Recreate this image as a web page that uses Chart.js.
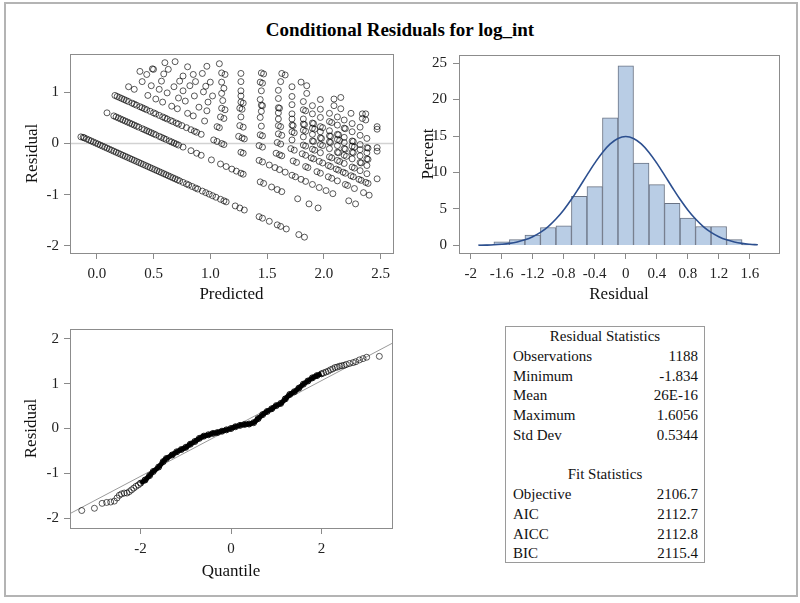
<!DOCTYPE html>
<html>
<head>
<meta charset="utf-8">
<script src="https://cdn.jsdelivr.net/npm/chart.js@4.4.1/dist/chart.umd.min.js"></script>
<style>
  body { margin: 0; background: #fff; width: 800px; height: 603px; position: relative; font-family: "Liberation Serif", "Times New Roman", serif; }
  #outer { position: absolute; left: 4px; top: 2px; width: 790px; height: 591px; border: 2px solid #b4b4b4; }
  h1 { position: absolute; left: 0; top: 19px; width: 800px; margin: 0; text-align: center; font-size: 19px; font-weight: bold; line-height: 22px; color: #000; }
  canvas { position: absolute; }
  #stats { position: absolute; left: 505px; top: 326px; width: 198px; height: 235px; border: 1px solid #9a9a9a; font-size: 15px; color: #111; }
  .row { height: 19.75px; line-height: 19.75px; display: flex; justify-content: space-between; padding: 0 6px 0 7px; }
  .head { height: 19.75px; line-height: 19.75px; text-align: center; }
</style>
</head>
<body>
<div id="outer"></div>
<h1>Conditional Residuals for log_int</h1>
<canvas id="scatter" width="400" height="270" style="left:0;top:40px"></canvas>
<canvas id="hist" width="400" height="270" style="left:400px;top:40px"></canvas>
<canvas id="qq" width="400" height="270" style="left:0;top:315px"></canvas>
<div id="stats"></div>

<script>
// residual vs predicted, one array per diagonal band
var band0 = [[-0.14,0.13],[-0.12,0.12],[-0.11,0.11],[-0.09,0.09],[-0.07,0.07],[-0.05,0.05],[-0.03,0.03],[-0.01,0.01],[0.01,-0.01],[0.03,-0.03],[0.05,-0.05],[0.07,-0.07],[0.09,-0.09],[0.11,-0.11],[0.13,-0.13],[0.15,-0.15],[0.17,-0.17],[0.19,-0.19],[0.21,-0.21],[0.23,-0.23],[0.25,-0.25],[0.27,-0.27],[0.29,-0.29],[0.31,-0.31],[0.33,-0.33],[0.35,-0.35],[0.37,-0.37],[0.39,-0.39],[0.41,-0.41],[0.43,-0.43],[0.45,-0.45],[0.47,-0.47],[0.49,-0.49],[0.51,-0.51],[0.53,-0.53],[0.55,-0.55],[0.57,-0.57],[0.59,-0.59],[0.61,-0.61],[0.63,-0.63],[0.65,-0.65],[0.67,-0.67],[0.69,-0.69],[0.71,-0.71],[0.73,-0.73],[0.76,-0.76],[0.79,-0.79],[0.81,-0.81],[0.84,-0.84],[0.87,-0.87],[0.89,-0.89],[0.93,-0.93],[0.96,-0.96],[0.99,-0.99],[1.02,-1.02],[1.05,-1.05],[1.09,-1.09],[1.12,-1.12],[1.14,-1.14],[1.22,-1.22],[1.26,-1.26],[1.30,-1.30],[1.43,-1.43],[1.46,-1.46],[1.52,-1.52],[1.59,-1.59],[1.62,-1.62],[1.67,-1.67],[1.78,-1.78],[1.83,-1.83]];
var band1 = [[0.09,0.60],[0.15,0.54],[0.17,0.52],[0.19,0.50],[0.21,0.48],[0.23,0.46],[0.25,0.44],[0.27,0.42],[0.29,0.40],[0.31,0.38],[0.33,0.36],[0.35,0.34],[0.37,0.32],[0.40,0.29],[0.42,0.27],[0.44,0.25],[0.46,0.23],[0.48,0.21],[0.50,0.19],[0.52,0.17],[0.55,0.14],[0.57,0.12],[0.59,0.10],[0.61,0.08],[0.64,0.05],[0.66,0.03],[0.68,0.01],[0.70,-0.01],[0.72,-0.03],[0.76,-0.07],[0.83,-0.14],[0.88,-0.19],[0.92,-0.23],[1.01,-0.32],[1.09,-0.40],[1.14,-0.45],[1.19,-0.50],[1.23,-0.54],[1.27,-0.58],[1.29,-0.60],[1.44,-0.75],[1.47,-0.78],[1.54,-0.85],[1.59,-0.90],[1.63,-0.94],[1.77,-1.08],[1.87,-1.18],[1.95,-1.26]];
var band2 = [[0.16,0.94],[0.18,0.92],[0.20,0.90],[0.22,0.88],[0.24,0.86],[0.26,0.84],[0.28,0.82],[0.31,0.79],[0.33,0.77],[0.35,0.75],[0.38,0.72],[0.40,0.70],[0.42,0.68],[0.44,0.66],[0.47,0.63],[0.50,0.60],[0.52,0.58],[0.55,0.55],[0.58,0.52],[0.60,0.50],[0.62,0.48],[0.65,0.45],[0.67,0.43],[0.70,0.40],[0.72,0.38],[0.75,0.35],[0.79,0.31],[0.83,0.27],[0.86,0.24],[0.88,0.22],[0.92,0.18],[1.03,0.07],[1.06,0.04],[1.10,0.00],[1.12,-0.02],[1.27,-0.17],[1.29,-0.19],[1.43,-0.33],[1.46,-0.36],[1.52,-0.42],[1.57,-0.47],[1.61,-0.51],[1.66,-0.56],[1.72,-0.62],[1.75,-0.65],[1.80,-0.70],[1.84,-0.74],[1.90,-0.80],[1.96,-0.86],[2.02,-0.92],[2.08,-0.98],[2.22,-1.12],[2.28,-1.18]];
var band3 = [[0.28,1.11],[0.33,1.06],[0.45,0.94],[0.52,0.87],[0.58,0.81],[0.66,0.73],[0.71,0.68],[0.80,0.59],[0.85,0.54],[0.95,0.44],[1.06,0.33],[1.08,0.31],[1.25,0.14],[1.28,0.11],[1.30,0.09],[1.43,-0.04],[1.46,-0.07],[1.58,-0.19],[1.61,-0.22],[1.63,-0.24],[1.73,-0.34],[1.76,-0.37],[1.84,-0.45],[1.86,-0.47],[1.94,-0.55],[1.97,-0.58],[2.04,-0.65],[2.07,-0.68],[2.12,-0.73],[2.19,-0.80],[2.21,-0.82],[2.27,-0.88],[2.35,-0.96],[2.40,-1.01]];
var band4 = [[0.40,1.21],[0.48,1.13],[0.55,1.06],[0.62,0.99],[0.72,0.89],[0.78,0.83],[0.90,0.71],[0.97,0.64],[1.09,0.52],[1.12,0.49],[1.26,0.35],[1.29,0.32],[1.44,0.17],[1.46,0.15],[1.59,0.02],[1.62,-0.01],[1.71,-0.10],[1.74,-0.13],[1.81,-0.20],[1.84,-0.23],[1.89,-0.28],[1.91,-0.30],[1.96,-0.35],[1.99,-0.38],[2.04,-0.43],[2.06,-0.45],[2.11,-0.50],[2.13,-0.52],[2.17,-0.56],[2.19,-0.58],[2.24,-0.63],[2.26,-0.65],[2.31,-0.70],[2.33,-0.72],[2.37,-0.76],[2.39,-0.78]];
var band5 = [[0.38,1.41],[0.44,1.35],[0.57,1.22],[0.68,1.11],[0.76,1.03],[0.86,0.93],[0.98,0.81],[1.10,0.69],[1.13,0.66],[1.27,0.52],[1.45,0.34],[1.60,0.19],[1.63,0.16],[1.72,0.07],[1.82,-0.03],[1.84,-0.05],[1.90,-0.11],[1.92,-0.13],[1.97,-0.18],[2.05,-0.26],[2.07,-0.28],[2.12,-0.33],[2.14,-0.35],[2.18,-0.39],[2.25,-0.46],[2.27,-0.48],[2.32,-0.53],[2.38,-0.59]];
var band6 = [[0.49,1.46],[0.50,1.45],[0.59,1.36],[0.73,1.22],[0.82,1.13],[0.94,1.01],[1.02,0.93],[1.11,0.84],[1.26,0.69],[1.28,0.67],[1.44,0.51],[1.60,0.35],[1.62,0.33],[1.72,0.23],[1.74,0.21],[1.82,0.13],[1.90,0.05],[1.91,0.04],[1.97,-0.02],[1.99,-0.04],[2.05,-0.10],[2.12,-0.17],[2.13,-0.18],[2.18,-0.23],[2.20,-0.25],[2.25,-0.30],[2.32,-0.37],[2.33,-0.38],[2.38,-0.43]];
var band7 = [[0.63,1.45],[0.76,1.32],[0.87,1.21],[0.96,1.12],[1.10,0.98],[1.27,0.81],[1.29,0.79],[1.45,0.63],[1.60,0.48],[1.72,0.36],[1.73,0.35],[1.82,0.26],[1.84,0.24],[1.90,0.18],[1.97,0.11],[1.98,0.10],[2.05,0.03],[2.06,0.02],[2.12,-0.04],[2.18,-0.10],[2.19,-0.11],[2.25,-0.17],[2.26,-0.18],[2.32,-0.24],[2.38,-0.30],[2.39,-0.31]];
var band8 = [[0.60,1.58],[0.85,1.35],[1.00,1.20],[1.12,1.08],[1.27,0.93],[1.45,0.75],[1.46,0.74],[1.60,0.60],[1.72,0.48],[1.82,0.38],[1.83,0.37],[1.90,0.30],[1.92,0.28],[1.97,0.23],[2.05,0.15],[2.06,0.14],[2.12,0.08],[2.14,0.06],[2.18,0.02],[2.25,-0.05],[2.27,-0.07],[2.32,-0.12],[2.38,-0.18]];
var band9 = [[0.69,1.60],[0.80,1.50],[0.93,1.37],[1.10,1.20],[1.27,1.03],[1.44,0.86],[1.60,0.70],[1.61,0.69],[1.72,0.58],[1.82,0.48],[1.90,0.40],[1.91,0.39],[1.97,0.33],[1.99,0.31],[2.05,0.25],[2.12,0.18],[2.13,0.17],[2.18,0.12],[2.25,0.05],[2.26,0.04],[2.32,-0.02],[2.38,-0.08],[2.39,-0.09]];
var band10 = [[0.97,1.51],[1.10,1.38],[1.13,1.35],[1.27,1.21],[1.45,1.03],[1.60,0.88],[1.72,0.76],[1.82,0.66],[1.84,0.64],[1.90,0.58],[1.97,0.51],[2.05,0.43],[2.07,0.41],[2.12,0.36],[2.18,0.30],[2.19,0.29],[2.25,0.23],[2.32,0.16],[2.38,0.10]];
var band11 = [[1.08,1.56],[1.27,1.37],[1.44,1.20],[1.46,1.18],[1.60,1.04],[1.72,0.92],[1.82,0.82],[1.90,0.74],[1.97,0.67],[2.05,0.59],[2.12,0.52],[2.18,0.46],[2.25,0.39],[2.32,0.32]];
var band12 = [[1.45,1.38],[1.47,1.36],[1.62,1.21],[1.72,1.11],[1.85,0.98],[1.97,0.86],[2.09,0.74],[2.15,0.68],[2.24,0.59],[2.34,0.49],[2.37,0.46]];
var band13 = [[1.63,1.37],[1.66,1.34],[1.80,1.20],[1.85,1.13],[2.09,0.87],[2.15,0.90],[2.34,0.58],[2.37,0.58]];
var edgeCol = [[2.47,0.33],[2.47,0.28],[2.47,-0.08],[2.47,-0.15],[2.47,-0.69]];

var scatterXTicks = [0, 0.5, 1, 1.5, 2, 2.5];
var scatterYTicks = [-2, -1, 0, 1];

// histogram: bin midpoints (width 0.2) and percent
var binMid = [-1.8, -1.6, -1.4, -1.2, -1.0, -0.8, -0.6, -0.4, -0.2, 0, 0.2, 0.4, 0.6, 0.8, 1.0, 1.2, 1.4, 1.6];
var binPct = [0.08, 0.5, 0.8, 1.43, 2.47, 2.69, 6.73, 8.07, 17.49, 24.6, 11.3, 8.34, 5.78, 3.77, 2.6, 2.6, 0.8, 0.17];
// normal density curve
var curveX = [-1.9, -1.8, -1.7, -1.6, -1.5, -1.4, -1.3, -1.2, -1.1, -1.0, -0.9, -0.8, -0.7, -0.6, -0.5, -0.4, -0.3, -0.2, -0.1, 0, 0.1, 0.2, 0.3, 0.4, 0.5, 0.6, 0.7, 0.8, 0.9, 1.0, 1.1, 1.2, 1.3, 1.4, 1.5, 1.6, 1.7];
var curveY = [0.03, 0.05, 0.09, 0.17, 0.29, 0.48, 0.77, 1.20, 1.79, 2.59, 3.62, 4.87, 6.33, 7.95, 9.64, 11.28, 12.75, 13.92, 14.67, 14.93, 14.67, 13.92, 12.75, 11.28, 9.64, 7.95, 6.33, 4.87, 3.62, 2.59, 1.79, 1.20, 0.77, 0.48, 0.29, 0.17, 0.09];
var histXTicks = [-2, -1.6, -1.2, -0.8, -0.4, 0, 0.4, 0.8, 1.2, 1.6];
var histYTicks = [0, 5, 10, 15, 20, 25];

// normal quantile plot
var qqTailLo = [[-3.30,-1.83],[-3.02,-1.78],[-2.85,-1.67],[-2.75,-1.65],[-2.66,-1.64],[-2.58,-1.62],[-2.52,-1.55],[-2.47,-1.49],[-2.42,-1.46],[-2.36,-1.44],[-2.30,-1.44],[-2.25,-1.41],[-2.20,-1.37],[-2.15,-1.33],[-2.10,-1.29],[-2.05,-1.26]];
var qqBody = [[-2.00,-1.22],[-1.90,-1.15],[-1.80,-1.05],[-1.72,-0.96],[-1.60,-0.86],[-1.50,-0.74],[-1.43,-0.67],[-1.30,-0.59],[-1.20,-0.52],[-1.10,-0.47],[-1.00,-0.42],[-0.90,-0.35],[-0.80,-0.29],[-0.70,-0.22],[-0.60,-0.17],[-0.50,-0.14],[-0.40,-0.11],[-0.30,-0.09],[-0.20,-0.06],[-0.10,-0.03],[0.00,0.00],[0.10,0.04],[0.20,0.07],[0.30,0.09],[0.40,0.10],[0.50,0.13],[0.60,0.22],[0.70,0.31],[0.80,0.38],[0.90,0.44],[1.00,0.51],[1.10,0.56],[1.20,0.66],[1.30,0.76],[1.40,0.82],[1.50,0.90],[1.60,0.99],[1.70,1.06],[1.80,1.13],[1.90,1.18],[2.00,1.22]];
var qqTailHi = [[2.05,1.24],[2.10,1.26],[2.15,1.28],[2.20,1.31],[2.25,1.33],[2.30,1.36],[2.35,1.37],[2.40,1.39],[2.45,1.40],[2.50,1.41],[2.55,1.43],[2.62,1.45],[2.70,1.47],[2.76,1.49],[2.84,1.53],[2.92,1.56],[3.00,1.59],[3.28,1.61]];
var qqRefLine = [[-3.6,-1.92],[3.6,1.92]];
var qqXTicks = [-2, 0, 2];
var qqYTicks = [-2, -1, 0, 1, 2];

var residStats = [['Observations', '1188'], ['Minimum', '-1.834'], ['Mean', '26E-16'], ['Maximum', '1.6056'], ['Std Dev', '0.5344']];
var fitStats = [['Objective', '2106.7'], ['AIC', '2112.7'], ['AICC', '2112.8'], ['BIC', '2115.4']];

var serif = '"Liberation Serif", "Times New Roman", serif';
var tickFont = { family: serif, size: 15 };
var titleFont = { family: serif, size: 17 };

function toXY(arr) {
    return arr.map(function(p) { return { x: p[0], y: p[1] }; });
}

function makeAxis(o) {
    return {
        type: 'linear',
        min: o.min,
        max: o.max,
        offset: false,
        afterBuildTicks: function(s) { s.ticks = o.ticks.map(function(v) { return { value: v }; }); },
        afterFit: function(s) {
            if (o.width) s.width = o.width;
            if (o.height) s.height = o.height;
        },
        ticks: {
            font: tickFont, color: '#222', padding: o.pad, autoSkip: false, maxRotation: 0,
            callback: o.fmt || function(v) { return String(v); }
        },
        grid: { drawOnChartArea: false, drawTicks: true, tickLength: 6, color: '#8a8a8a', offset: false },
        border: { display: false },
        title: { display: true, text: o.title, font: titleFont, color: '#111', padding: o.tpad }
    };
}

// box around each plot area
var framePlugin = {
    id: 'frame',
    afterDraw: function(chart) {
        var ctx = chart.ctx, a = chart.chartArea;
        ctx.save();
        ctx.strokeStyle = '#8c8c8c';
        ctx.lineWidth = 1;
        ctx.strokeRect(Math.round(a.left) + 0.5, Math.round(a.top) + 0.5, Math.round(a.right - a.left), Math.round(a.bottom - a.top));
        ctx.restore();
    }
};

var circle = {
    showLine: false, pointStyle: 'circle', pointRadius: 3, pointHoverRadius: 3,
    pointBackgroundColor: 'rgba(0,0,0,0)', pointBorderColor: 'rgba(0,0,0,0.72)', pointBorderWidth: 0.9
};

var baseOpts = {
    responsive: false,
    animation: false,
    events: [],
    plugins: { legend: { display: false }, tooltip: { enabled: false } }
};

var scatterPts = [].concat(band0, band1, band2, band3, band4, band5, band6, band7, band8, band9, band10, band11, band12, band13, edgeCol);

new Chart(document.getElementById('scatter'), {
    type: 'scatter',
    data: {
        datasets: [
            Object.assign({ data: toXY(scatterPts) }, circle),
            { data: [{ x: -0.3, y: 0 }, { x: 2.7, y: 0 }], showLine: true, borderColor: '#d2d2d2', borderWidth: 1.5, pointRadius: 0 }
        ]
    },
    options: Object.assign({}, baseOpts, {
        layout: { padding: { top: 11, right: 7, left: 0, bottom: 0 } },
        scales: {
            x: makeAxis({ min: -0.236, max: 2.61, ticks: scatterXTicks, title: 'Predicted', height: 57, pad: 6, tpad: { top: 0, bottom: 5 }, fmt: function(v) { return v.toFixed(1); } }),
            y: makeAxis({ min: -2.14, max: 1.75, ticks: scatterYTicks, title: 'Residual', width: 70, pad: 5, tpad: { top: 22, bottom: 0 } })
        }
    }),
    plugins: [framePlugin]
});

new Chart(document.getElementById('hist'), {
    type: 'bar',
    data: {
        datasets: [
            {
                type: 'line', data: curveX.map(function(x, i) { return { x: x, y: curveY[i] }; }),
                borderColor: '#2c4f8f', borderWidth: 1.6, pointRadius: 0, tension: 0.4, fill: false
            },
            {
                data: binMid.map(function(x, i) { return { x: x, y: binPct[i] }; }),
                backgroundColor: '#b9cde5', borderColor: '#6a7384', borderWidth: 1,
                barPercentage: 1, categoryPercentage: 1, grouped: false
            }
        ]
    },
    options: Object.assign({}, baseOpts, {
        layout: { padding: { top: 11, right: 21, left: 0, bottom: 0 } },
        scales: {
            x: makeAxis({ min: -2.15, max: 1.976, ticks: histXTicks, title: 'Residual', height: 57, pad: 6, tpad: { top: 0, bottom: 5 } }),
            y: makeAxis({ min: -1.03, max: 26.1, ticks: histYTicks, title: 'Percent', width: 59, pad: 6, tpad: { top: 18, bottom: 0 } })
        }
    }),
    plugins: [framePlugin]
});

new Chart(document.getElementById('qq'), {
    type: 'scatter',
    data: {
        datasets: [
            Object.assign({ data: toXY(qqTailLo) }, circle),
            Object.assign({ data: toXY(qqTailHi) }, circle),
            Object.assign({ data: toXY(qqBody) }, circle, { showLine: true, borderColor: '#000', borderWidth: 5, tension: 0.3, pointBorderColor: '#000' }),
            { data: toXY(qqRefLine), showLine: true, borderColor: '#9a9a9a', borderWidth: 1, pointRadius: 0 }
        ]
    },
    options: Object.assign({}, baseOpts, {
        layout: { padding: { top: 10, right: 8, left: 0, bottom: 0 } },
        scales: {
            x: makeAxis({ min: -3.56, max: 3.56, ticks: qqXTicks, title: 'Quantile', height: 57, pad: 6, tpad: { top: 0, bottom: 3 } }),
            y: makeAxis({ min: -2.22, max: 2.22, ticks: qqYTicks, title: 'Residual', width: 70, pad: 5, tpad: { top: 21, bottom: 0 } })
        }
    }),
    plugins: [framePlugin]
});

// statistics box
var box = document.getElementById('stats');
function addHead(text) {
    var d = document.createElement('div');
    d.className = 'head';
    d.textContent = text;
    box.appendChild(d);
}
function addRows(rows) {
    rows.forEach(function(r) {
        var d = document.createElement('div');
        d.className = 'row';
        var a = document.createElement('span'); a.textContent = r[0];
        var b = document.createElement('span'); b.textContent = r[1];
        d.appendChild(a); d.appendChild(b);
        box.appendChild(d);
    });
}
addHead('Residual Statistics');
addRows(residStats);
var gap = document.createElement('div'); gap.style.height = '19.75px'; box.appendChild(gap);
addHead('Fit Statistics');
addRows(fitStats);
</script>
</body>
</html>
